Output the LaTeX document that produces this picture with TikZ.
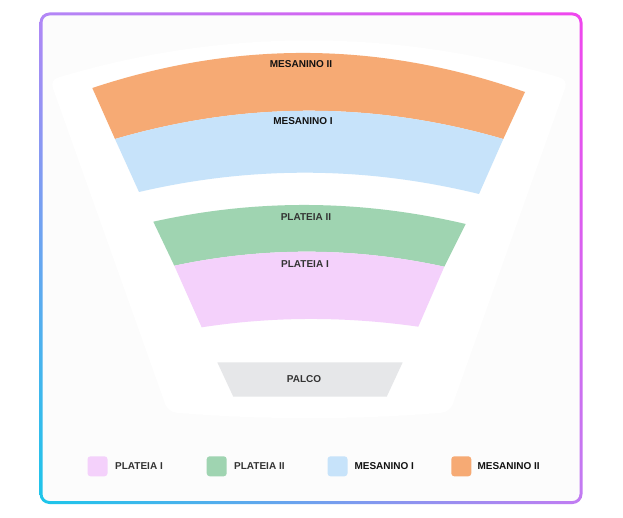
\documentclass[tikz,border=0pt]{standalone}
\usepackage{fontspec}
\setmainfont{Liberation Sans}
\usetikzlibrary{shadings}
\begin{document}
\begin{tikzpicture}[x=1pt,y=-1pt,
  lbl/.style={font=\fontsize{10}{12}\selectfont\bfseries, inner sep=0pt},
  lblM/.style={lbl, text=black!93},
  lblP/.style={lbl, text=black!80},
  legsq/.style={minimum size=20pt, inner sep=0pt, rounded corners=3pt},
  legtxt/.style={lbl, anchor=west}]
\definecolor{cOrange}{HTML}{F6AA74}
\definecolor{cBlue}{HTML}{C7E3FA}
\definecolor{cGreen}{HTML}{9FD4B1}
\definecolor{cPink}{HTML}{F4D1FB}
\definecolor{cGray}{HTML}{E6E7E9}
\definecolor{cBack}{HTML}{FCFCFC}
\definecolor{bTL}{HTML}{B287F6}
\definecolor{bTR}{HTML}{F046EE}
\definecolor{bBL}{HTML}{1CC6EA}
\definecolor{bBR}{HTML}{C27CF2}
% canvas
\fill[white] (0,0) rectangle (623,518);
\useasboundingbox (0,0) rectangle (623,518);
% inner background
\fill[cBack, rounded corners=8pt] (41,14) rectangle (581,502.5);
% faint white fan behind the seating
\fill[white, rounded corners=8pt] (50,80) .. controls (222,28) and (396,28) .. (568,80)
  -- (450,412) .. controls (357,420) and (261,420) .. (168,412) -- cycle;
% gradient frame
\shade[even odd rule, upper left=bTL, upper right=bTR, lower left=bBL, lower right=bBR]
  [rounded corners=10pt] (39.5,12.5) rectangle (582.5,504)
  [rounded corners=7pt] (42.5,15.5) rectangle (579.5,501);
% Mesanino II (orange)
\fill[cOrange] (92.3,88) .. controls (237,40) and (381.2,41.3) .. (525,92)
  -- (503.3,139) .. controls (373.7,101.3) and (244.2,101.3) .. (115,139) -- cycle;
% Mesanino I (blue)
\fill[cBlue] (115,139) .. controls (244.2,101.3) and (373.7,101.3) .. (503.3,139)
  -- (479,194) .. controls (365.7,166.3) and (252.3,165.6) .. (139,192) -- cycle;
% Plateia II (green)
\fill[cGreen] (153.3,221.7) .. controls (256.8,198.7) and (360.9,199.4) .. (465.7,224)
  -- (444.3,266.7) .. controls (353.9,247.0) and (263.9,246.7) .. (174.3,265.7) -- cycle;
% Plateia I (pink)
\fill[cPink] (174.3,265.7) .. controls (263.9,246.7) and (353.9,247.0) .. (444.3,266.7)
  -- (418.3,326.7) .. controls (344.8,316.2) and (272.6,316.4) .. (201.7,327.3) -- cycle;
% Palco
\fill[cGray] (217.3,362.3) -- (402.7,362.3) -- (386.7,396.7) -- (233.3,396.7) -- cycle;
% labels
\node[lblM] (m2) at (301,64) {MESANINO II};
\node[lblM] (m1) at (303,121) {MESANINO I};
\node[lblP] (p2) at (306,217.5) {PLATEIA II};
\node[lblP] (p1) at (305,264.5) {PLATEIA I};
\node[lblP] (pa) at (304,379) {PALCO};
% legend
\node[legsq, fill=cPink] (lg1) at (97.5,466.3) {};
\node[legtxt, text=black!80] (lt1) at (115,466.3) {PLATEIA I};
\node[legsq, fill=cGreen] (lg2) at (216.7,466.3) {};
\node[legtxt, text=black!80] (lt2) at (234,466.3) {PLATEIA II};
\node[legsq, fill=cBlue] (lg3) at (337.5,466.3) {};
\node[legtxt, text=black!93] (lt3) at (354.3,466.3) {MESANINO I};
\node[legsq, fill=cOrange] (lg4) at (461.3,466.3) {};
\node[legtxt, text=black!93] (lt4) at (477.3,466.3) {MESANINO II};
\end{tikzpicture}
\end{document}
